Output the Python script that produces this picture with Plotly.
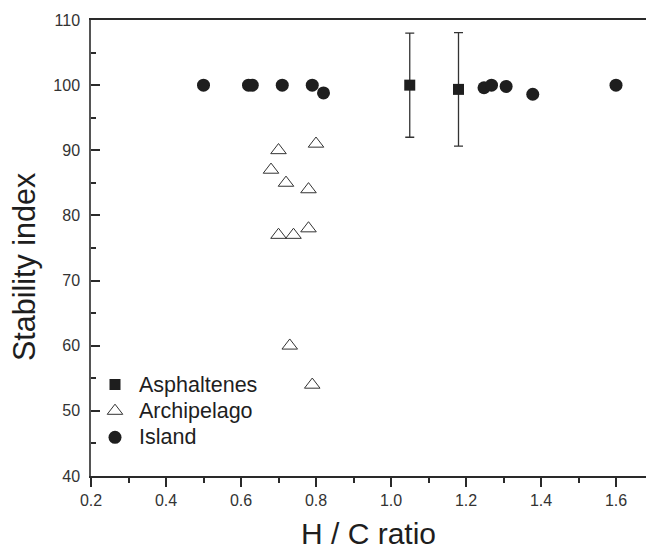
import plotly.graph_objects as go

# Asphaltenes (filled squares with error bars)
asph_x = [1.05, 1.18]
asph_y = [100.0, 99.35]
asph_err = [8.0, 8.7]

# Archipelago (open triangles)
arch_x = [0.80, 0.70, 0.68, 0.72, 0.78, 0.78, 0.70, 0.74, 0.73, 0.79]
arch_y = [91, 90, 87, 85, 84, 78, 77, 77, 60, 54]

# Island (filled circles)
isl_x = [0.50, 0.62, 0.63, 0.71, 0.79, 0.82, 1.248, 1.268, 1.307, 1.378, 1.60]
isl_y = [100, 100, 100, 100, 100, 98.8, 99.6, 100.0, 99.8, 98.6, 100]

x_ticks = [0.2, 0.4, 0.6, 0.8, 1.0, 1.2, 1.4, 1.6]
x_tick_labels = ["0.2", "0.4", "0.6", "0.8", "1.0", "1.2", "1.4", "1.6"]
y_ticks = [40, 50, 60, 70, 80, 90, 100, 110]

INK = "#1e1e1e"
FONT = "Liberation Sans, Arial, sans-serif"


def legend_name(s):
    return '<span style="font-size:21.5px">' + s + "</span>"


fig = go.Figure()
fig.add_trace(go.Scatter(
    x=asph_x, y=asph_y, mode="markers", name=legend_name("Asphaltenes"),
    marker=dict(symbol="square", size=11, color=INK),
    error_y=dict(type="data", array=asph_err, visible=True, color="#333333",
                 thickness=1.3, width=4.5),
))
fig.add_trace(go.Scatter(
    x=arch_x, y=arch_y, mode="markers", name=legend_name("Archipelago"),
    marker=dict(symbol="triangle-up-open", size=13.5, color="#333333",
                line=dict(width=1, color="#333333")),
))
fig.add_trace(go.Scatter(
    x=isl_x, y=isl_y, mode="markers", name=legend_name("Island"),
    marker=dict(symbol="circle", size=13, color=INK),
))

fig.update_layout(
    width=646, height=550,
    margin=dict(l=91, r=0, t=20, b=74),
    paper_bgcolor="white", plot_bgcolor="white",
    font=dict(family=FONT, color=INK),
    showlegend=True,
    legend=dict(x=0.0, y=0.2405, xanchor="left", yanchor="top",
                bgcolor="rgba(0,0,0,0)", font=dict(size=18, family=FONT, color=INK),
                tracegroupgap=0, itemwidth=38),
    annotations=[
        dict(text="Stability index", textangle=-90, xref="paper", yref="paper",
             x=(24 - 91) / 555, y=(476 - 267) / 456, xanchor="center", yanchor="middle",
             showarrow=False, font=dict(size=30.5, family=FONT, color=INK)),
    ],
)

fig.update_xaxes(
    range=[0.2, 0.2 + 555 / 375], showgrid=False, zeroline=False,
    showline=True, linecolor="#2a2a2a", linewidth=1.5, mirror=True,
    tickmode="array", tickvals=x_ticks, ticktext=x_tick_labels,
    ticks="outside", ticklen=9, tickwidth=1.5, tickcolor="#2a2a2a",
    tickfont=dict(size=16, color="#333333"),
    minor=dict(dtick=0.1, tick0=0.2, ticks="outside", ticklen=5, tickwidth=1.5, tickcolor="#2a2a2a"),
    title=dict(text="H / C ratio", font=dict(size=30, family=FONT, color=INK), standoff=16),
)
fig.update_yaxes(
    range=[40, 110], showgrid=False, zeroline=False,
    showline=True, linecolor="#555555", linewidth=1.5,
    tickmode="array", tickvals=y_ticks,
    ticks="inside", ticklen=9, tickwidth=1.5, tickcolor="#2a2a2a",
    tickfont=dict(size=16, color="#333333"),
    minor=dict(dtick=5, tick0=40, ticks="inside", ticklen=5, tickwidth=1.5, tickcolor="#2a2a2a"),
    ticklabelstandoff=6,
)

fig.write_html(
    "out.html",
    config={"displayModeBar": False},
    post_script="document.body.style.margin='0';document.body.style.overflow='hidden';",
)
